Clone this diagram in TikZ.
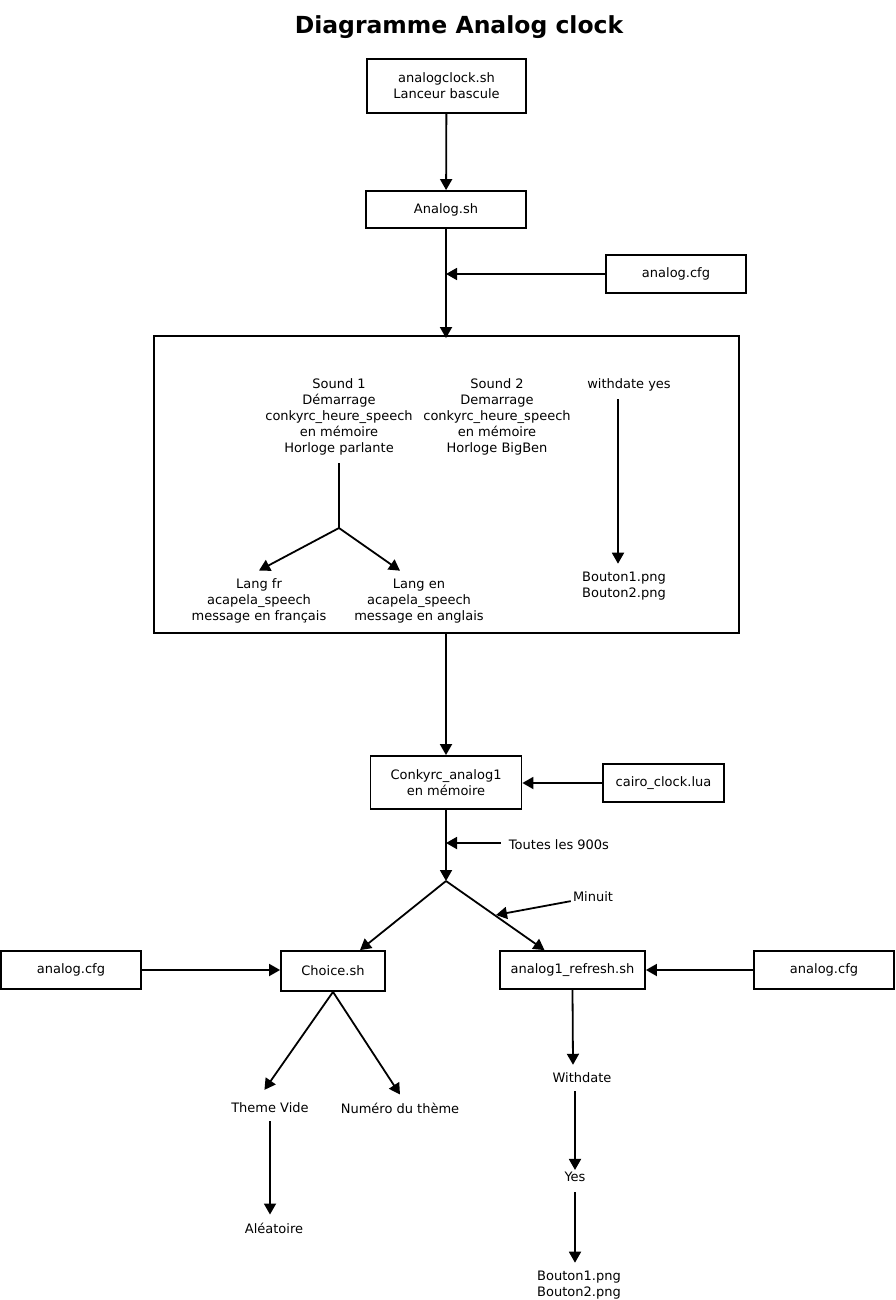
\documentclass[tikz,border=0pt]{standalone}
\usepackage{fontspec}
\setmainfont{DejaVu Sans}
\usetikzlibrary{arrows.meta,positioning}

\begin{document}
\begin{tikzpicture}[x=1pt, y=-1pt,
  box/.style={draw, line width=1.8pt, inner sep=0pt, align=center,
              font=\fontsize{13}{16}\selectfont},
  txt/.style={inner sep=8pt, align=center, font=\fontsize{13}{16}\selectfont},
  arr/.style={-{Triangle[length=11pt,width=12pt]}, line width=1.8pt},
  lin/.style={line width=1.8pt}
]
\useasboundingbox (0,0) rectangle (896,1300);
\node[font=\bfseries\fontsize{23.5}{28}\selectfont] (title) at (459,27) {Diagramme Analog clock};

% lanceur
\node[box, minimum width=159pt, minimum height=54pt] (clk) at (446.5,86) {analogclock.sh\\Lanceur bascule};
\node[box, minimum width=160pt, minimum height=37pt] (analog) at (446,209.5) {Analog.sh};
\node[box, minimum width=140pt, minimum height=38pt] (cfg1) at (676,274) {analog.cfg};
\coordinate (j1) at (446,274);

% cadre des sons
\node[box, minimum width=585pt, minimum height=297pt] (frame) at (446.5,484.5) {};
\node[txt] (s1) at (339,417) {Sound 1\\Démarrage\\conkyrc\_heure\_speech\\en mémoire\\Horloge parlante};
\node[txt] (s2) at (497,417) {Sound 2\\Demarrage\\conkyrc\_heure\_speech\\en mémoire\\Horloge BigBen};
\node[txt] (wd) at (629,385) {withdate yes};
\node[txt] (fr) at (259,601) {Lang fr\\acapela\_speech\\message en français};
\node[txt] (en) at (419,601) {Lang en\\acapela\_speech\\message en anglais};
\node[txt] (btn1) at (624,586) {Bouton1.png\\Bouton2.png};
\coordinate (fork1) at (339,528);

% conky
\node[box, minimum width=151pt, minimum height=53pt] (conky) at (446,782.5) {Conkyrc\_analog1\\en mémoire};
\node[box, minimum width=121pt, minimum height=38pt] (cairo) at (663.5,783) {cairo\_clock.lua};
\node[txt] (toutes) at (559,845) {Toutes les 900s};
\node[txt, inner sep=2pt] (minuit) at (593,897) {Minuit};
\coordinate (j2) at (446,843);
\coordinate (fork2) at (446,881);
\coordinate (j3) at (496,915);

% scripts
\node[box, minimum width=104pt, minimum height=40pt] (choice) at (333,971) {Choice.sh};
\node[box, minimum width=140pt, minimum height=38pt] (cfgL) at (71,970) {analog.cfg};
\node[box, minimum width=145pt, minimum height=38pt] (refresh) at (572.5,970) {analog1\_refresh.sh};
\node[box, minimum width=140pt, minimum height=38pt] (cfgR) at (824,970) {analog.cfg};
\node[txt] (theme) at (270,1108) {Theme Vide};
\node[txt] (numero) at (400,1108) {Numéro du thème};
\node[txt] (alea) at (274,1228) {Aléatoire};
\node[txt] (withdate) at (582,1078) {Withdate};
\node[txt, inner sep=2pt] (yes) at (575,1177) {Yes};
\node[txt] (btn2) at (579,1285) {Bouton1.png\\Bouton2.png};

\draw[arr] (clk) -- (analog);
\draw[arr] (analog) -- ([yshift=-3pt]frame.north -| analog);
\draw[arr] (cfg1) -- (j1);
\draw[lin] (s1) -- (fork1);
\draw[arr] (fork1) -- (fr.north);
\draw[arr] (fork1) -- ([xshift=-19pt]en.north);
\draw[arr] ([xshift=-11pt]wd.south) -- ([xshift=-6pt]btn1.north);
\draw[arr] (frame.south -| conky) -- (conky);
\draw[arr] (cairo) -- (cairo -| conky.east);
\draw[arr] (conky.south) -- (fork2);
\draw[arr] (toutes.west |- j2) -- (j2);
\draw[arr] (minuit) -- (j3);
\draw[arr] (fork2) -- ([xshift=27pt]choice.north);
\draw[arr] (fork2) -- ([xshift=-28pt]refresh.north);
\draw[arr] (cfgL) -- (cfgL -| choice.west);
\draw[arr] (cfgR) -- (refresh);
\draw[arr, shorten >=6pt] (choice.south) -- ([xshift=-9pt]theme.north);
\draw[arr] (choice.south) -- (numero.north);
\draw[arr] (theme) -- (theme |- alea.north);
\draw[arr] (refresh.south) -- ([xshift=-9pt]withdate.north);
\draw[arr] ([xshift=-7pt]withdate.south) -- (yes);
\draw[arr, shorten <=8pt] (yes) -- (yes |- btn2.north);
\end{tikzpicture}
\end{document}
